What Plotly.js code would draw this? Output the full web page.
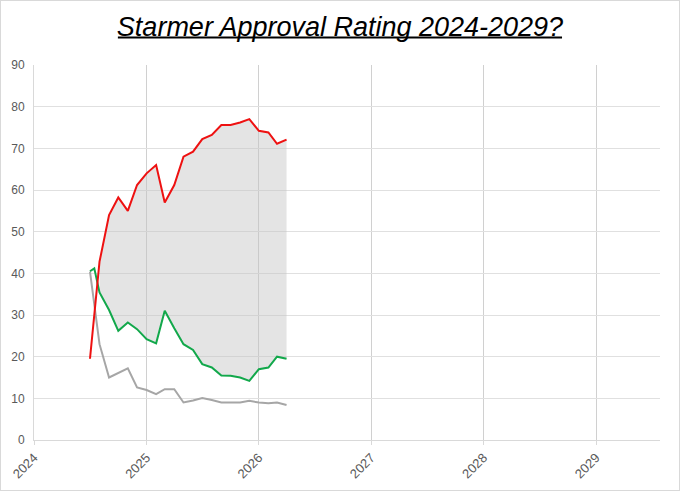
<!DOCTYPE html>
<html>
<head>
<meta charset="utf-8">
<script src="https://cdn.plot.ly/plotly-3.0.1.min.js"></script>
<style>
  html, body { margin: 0; padding: 0; background: #fff; }
  #wrap { position: relative; width: 680px; height: 491px; }
  #chart { width: 680px; height: 491px; }
  #frame { position: absolute; left: 0; top: 0; width: 680px; height: 491px; box-sizing: border-box; border: 1px solid #d9d9d9; pointer-events: none; }
</style>
</head>
<body>
<div id="wrap"><div id="chart"></div><div id="frame"></div></div>
<script>
// Monthly dates (July 2024 – April 2026)
const dates = ["2024-07-01","2024-08-01","2024-09-01","2024-10-01","2024-11-01","2024-12-01",
  "2025-01-01","2025-02-01","2025-03-01","2025-04-01","2025-05-01","2025-06-01",
  "2025-07-01","2025-08-01","2025-09-01","2025-10-01","2025-11-01","2025-12-01",
  "2026-01-01","2026-02-01","2026-03-01","2026-04-01"];
// Disapprove (red)
const disapprove = [19.5, 42.8, 54, 58.2, 55, 61.2, 64, 66, 57, 61.2, 68, 69.2,
  72.2, 73.2, 75.6, 75.6, 76.2, 77, 74.2, 73.8, 71.1, 72.1];
// Approve (green) has an extra mid-July point
const approveDates = ["2024-07-01","2024-07-15"].concat(dates.slice(1));
const approve = [40.5, 41.2, 35.4, 31.2, 26.2, 28.2, 26.6, 24.2, 23.2, 31.0, 26.8, 23.0, 21.6,
  18.2, 17.4, 15.5, 15.4, 15.0, 14.2, 17.0, 17.4, 20.0, 19.5];
// Don't know (grey)
const dontKnow = [40.4, 23.0, 15.0, 16.0, 17.2, 12.6, 12.0, 11.0, 12.2, 12.2, 9.0, 9.5,
  10.1, 9.6, 9.0, 9.0, 9.0, 9.4, 9.0, 8.8, 9.0, 8.4];
const yTicks = [0, 10, 20, 30, 40, 50, 60, 70, 80, 90];
const xTicks = ["2024-01-01","2025-01-01","2026-01-01","2027-01-01","2028-01-01","2029-01-01"];
const xTickLabels = ["2024","2025","2026","2027","2028","2029"];

const traces = [
  { x: dates.slice(1), y: approve.slice(2), mode: "lines", line: {width: 0, color: "rgba(0,0,0,0)"},
    hoverinfo: "skip", showlegend: false },
  { x: dates.slice(1), y: disapprove.slice(1), mode: "lines", line: {width: 0, color: "rgba(0,0,0,0)"},
    fill: "tonexty", fillcolor: "rgba(195,195,195,0.45)", hoverinfo: "skip", showlegend: false },
  { x: dates, y: dontKnow, mode: "lines", name: "Don't know", line: {color: "#a6a6a6", width: 2} },
  { x: approveDates, y: approve, mode: "lines", name: "Approve", line: {color: "#12a84b", width: 2} },
  { x: dates, y: disapprove, mode: "lines", name: "Disapprove", line: {color: "#ee1111", width: 2} }
];

const layout = {
  width: 680, height: 491,
  margin: {l: 34, r: 20, t: 65, b: 51},
  paper_bgcolor: "#ffffff", plot_bgcolor: "#ffffff",
  showlegend: false,
  font: {family: "Liberation Sans, Arial, sans-serif", color: "#595959"},
  title: {
    text: "Starmer Approval Rating 2024-2029?",
    font: {family: "Liberation Sans, Arial, sans-serif", size: 27, color: "#000000", style: "italic"},
    x: 0.5, xanchor: "center", xref: "container", y: 0.946, yref: "container", yanchor: "middle"
  },
  shapes: [
    { type: "line", xref: "paper", yref: "paper", x0: 0.134, x1: 0.8435, y0: 1.0735, y1: 1.0735,
      line: {color: "#000000", width: 2} }
  ],
  xaxis: {
    type: "date",
    range: ["2024-01-01", "2029-07-28"],
    tickvals: xTicks, ticktext: xTickLabels,
    tickangle: -45,
    tickfont: {size: 13, color: "#595959"},
    showgrid: true, gridcolor: "#d0d0d0", gridwidth: 1,
    showline: true, linecolor: "#d9d9d9", linewidth: 1,
    ticks: "outside", ticklen: 4, tickcolor: "#d9d9d9",
    zeroline: false, fixedrange: true
  },
  yaxis: {
    range: [0, 90],
    tickvals: yTicks,
    tickfont: {size: 12, color: "#595959"},
    ticklabelstandoff: 6,
    showgrid: true, gridcolor: "#e0e0e0", gridwidth: 1,
    showline: true, linecolor: "#d9d9d9", linewidth: 1,
    ticks: "", zeroline: false, fixedrange: true
  }
};

Plotly.newPlot("chart", traces, layout, {displayModeBar: false, staticPlot: true});
</script>
</body>
</html>
